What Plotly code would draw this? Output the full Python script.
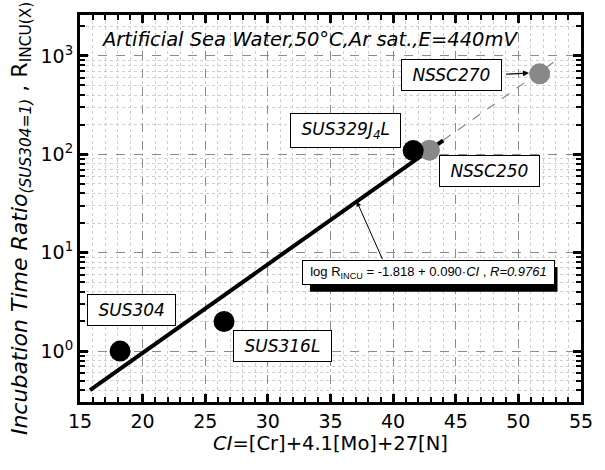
import math
import plotly.graph_objects as go

# Measured alloys: critical index CI and incubation time ratio
alloys_black = ["SUS304", "SUS316L", "SUS329J4L"]
ci_black = [18.2, 26.5, 41.6]
ratio_black = [1.0, 2.0, 109]

alloys_gray = ["NSSC250", "NSSC270"]
ci_gray = [42.9, 51.7]
ratio_gray = [110, 656]

# Regression: log R = a + b * CI
fit_a = -1.818
fit_b = 0.090
fit_solid_ci = [15.8, 44.0]
fit_dash_ci = [44.0, 53.3]

x_ticks = [15, 20, 25, 30, 35, 40, 45, 50, 55]
y_ticks = [1, 10, 100, 1000]
y_tick_text = ["10<sup>0</sup>", "10<sup>1</sup>", "10<sup>2</sup>", "10<sup>3</sup>"]

X_RANGE = [15, 55]
Y_RANGE = [-0.517, 3.415]  # log10 units
W, H = 605, 470
M_L, M_R, M_T, M_B = 80, 13, 13, 68
PLOT_W = W - M_L - M_R
PLOT_H = H - M_T - M_B


def fit(ci):
    return [10 ** (fit_a + fit_b * c) for c in ci]


lg = math.log10  # annotations on a log axis take log10 positions
FONT = "DejaVu Sans"

fig = go.Figure()

fig.add_trace(go.Scatter(
    x=fit_dash_ci, y=fit(fit_dash_ci), mode="lines",
    line=dict(color="#888888", width=1.2, dash="dash"), showlegend=False))
fig.add_trace(go.Scatter(
    x=fit_solid_ci, y=fit(fit_solid_ci), mode="lines",
    line=dict(color="black", width=4), showlegend=False))
fig.add_trace(go.Scatter(
    x=ci_gray, y=ratio_gray, mode="markers",
    marker=dict(color="#888888", size=21), showlegend=False))
fig.add_trace(go.Scatter(
    x=ci_black, y=ratio_black, mode="markers",
    marker=dict(color="black", size=21), showlegend=False))


def label(text, x, y, size=17):
    fig.add_annotation(
        x=x, y=lg(y), xref="x", yref="y", text="\u00a0<i>" + text + "</i>\u00a0",
        showarrow=False, bgcolor="white", bordercolor="black",
        borderwidth=1, borderpad=5,
        font=dict(family=FONT, size=size, color="black"))


label("SUS304", 19.15, 2.6)
label("SUS316L", 31.2, 1.12)
label("SUS329J<sub>4</sub>L", 36.2, 173)
label("NSSC250", 47.7, 67)
label("NSSC270", 44.7, 640)

# Arrow from NSSC270 label to its point
fig.add_annotation(
    x=50.85, y=lg(668), ax=48.9, ay=lg(650), xref="x", yref="y", axref="x", ayref="y",
    text="", showarrow=True, arrowhead=2, arrowsize=1, arrowwidth=1.2,
    arrowcolor="black")

# Regression equation in a box with a drop shadow
eq_text = "log R<sub>INCU</sub> = -1.818 + 0.090·<i>CI</i> , <i>R=0.9761</i>"
eq_x, eq_r = 42.85, 6.3
eq_w, eq_h, eq_pad = 243, 15, 4
half_w = eq_w / 2 + eq_pad + 1
half_h = eq_h / 2 + eq_pad + 1
px_per_x = PLOT_W / (X_RANGE[1] - X_RANGE[0])
eq_p = (lg(eq_r) - Y_RANGE[0]) / (Y_RANGE[1] - Y_RANGE[0])
fig.add_shape(
    type="rect", xref="x", yref="paper",
    x0=eq_x + (-half_w + 5) / px_per_x, x1=eq_x + (half_w + 5) / px_per_x,
    y0=eq_p + (-half_h - 7) / PLOT_H, y1=eq_p + (half_h - 7) / PLOT_H,
    fillcolor="black", line=dict(color="black", width=0), layer="above")
fig.add_annotation(
    x=eq_x, y=lg(eq_r), xref="x", yref="y", text=eq_text, showarrow=False,
    width=eq_w, height=eq_h,
    bgcolor="white", bordercolor="black", borderwidth=1, borderpad=eq_pad,
    font=dict(family="Liberation Sans", size=13, color="black"))

# Arrow from equation to the regression line
fig.add_annotation(
    x=37.1, y=fit_a + fit_b * 37.1, ax=39.2, ay=lg(8.3),
    xref="x", yref="y", axref="x", ayref="y",
    text="", showarrow=True, arrowhead=2, arrowsize=1, arrowwidth=1,
    arrowcolor="black")

# Test conditions
fig.add_annotation(
    x=16.5, y=lg(1480), xref="x", yref="y", xanchor="left", yanchor="middle",
    text="<i>Artificial Sea Water,50°C,Ar sat.,E=440mV</i>", showarrow=False,
    font=dict(family=FONT, size=19.5, color="black"))

# Y-axis title
fig.add_annotation(
    x=-0.118, y=0.475, xref="paper", yref="paper", xanchor="center", yanchor="middle",
    textangle=-90, showarrow=False,
    text="<i>Incubation Time Ratio</i><sub><i>(SUS304=1)</i></sub> , R<sub>INCU(X)</sub>",
    font=dict(family=FONT, size=22, color="black"))

axis_common = dict(
    showline=True, linecolor="black", linewidth=3, mirror="allticks",
    ticks="inside", ticklen=8, tickwidth=3, tickcolor="black",
    showgrid=True, gridcolor="#8c8c8c", griddash="dash", gridwidth=1,
    zeroline=False, tickfont=dict(family=FONT, size=19, color="black"),
)

fig.update_xaxes(
    range=X_RANGE, tickvals=x_ticks,
    minor=dict(dtick=1, ticks="inside", ticklen=5, tickwidth=2, tickcolor="black",
               showgrid=True, gridcolor="#cfcfcf", griddash="dot", gridwidth=1),
    title=dict(text="<i>CI</i>=[Cr]+4.1[Mo]+27[N]",
               font=dict(family=FONT, size=19.5, color="black"), standoff=6),
    **axis_common)

minor_y = [m * 10 ** d for d in range(-1, 4) for m in range(2, 10)]
fig.update_yaxes(
    type="log", range=Y_RANGE, tickvals=y_ticks, ticktext=y_tick_text,
    minor=dict(tickvals=minor_y, ticks="inside", ticklen=5, tickwidth=2, tickcolor="black",
               showgrid=True, gridcolor="#cfcfcf", griddash="dot", gridwidth=1),
    **axis_common)

fig.update_layout(
    width=W, height=H,
    margin=dict(l=M_L, r=M_R, t=M_T, b=M_B),
    plot_bgcolor="white", paper_bgcolor="white",
    showlegend=False,
)

fig.write_html("out.html")
